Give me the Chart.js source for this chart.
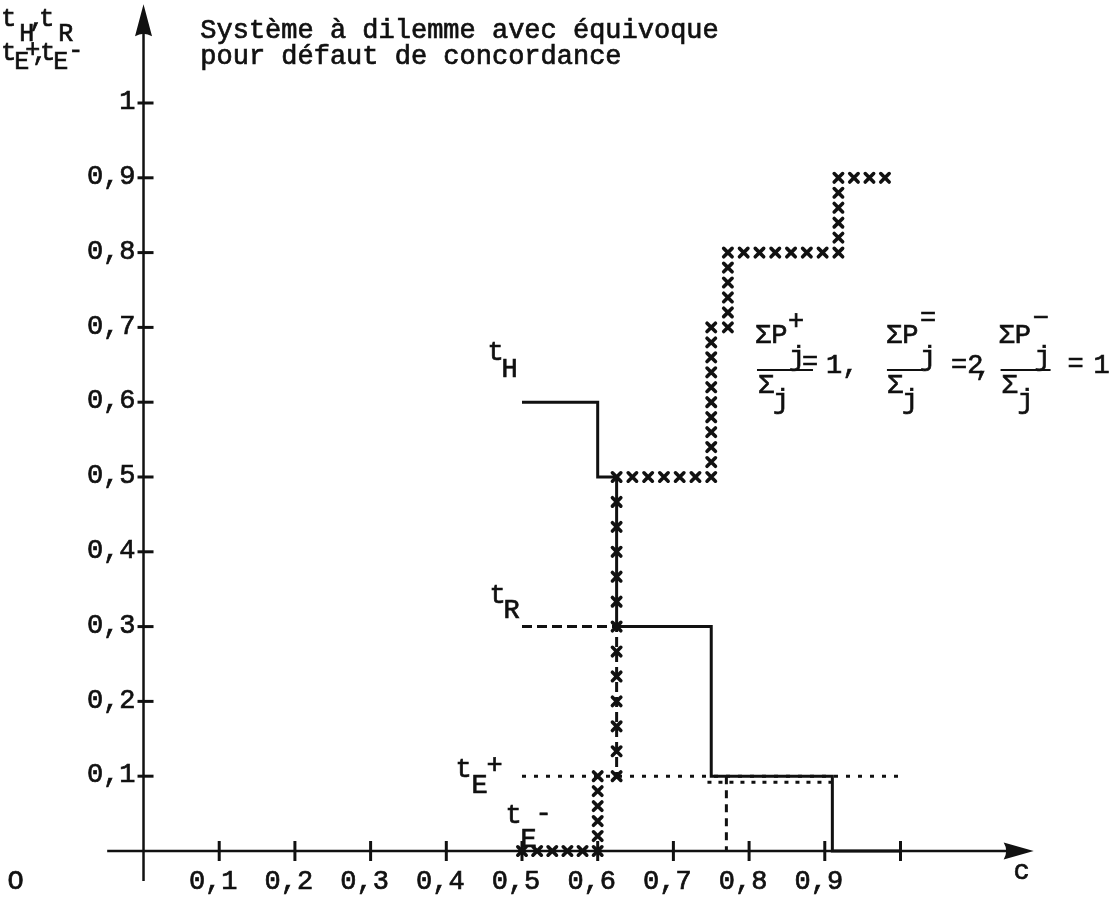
<!DOCTYPE html>
<html>
<head>
<meta charset="utf-8">
<script src="https://cdn.jsdelivr.net/npm/chart.js@4"></script>
<style>
  html, body { margin: 0; padding: 0; background: #fff; }
  canvas { display: block; }
</style>
</head>
<body>
<canvas id="chart" width="1115" height="902"></canvas>
<script>
// axis ticks
const xTicks = [0.1, 0.2, 0.3, 0.4, 0.5, 0.6, 0.7, 0.8, 0.9, 1.0];
const xTickLabels = ['0,1', '0,2', '0,3', '0,4', '0,5', '0,6', '0,7', '0,8', '0,9', ''];
const yTicks = [0.1, 0.2, 0.3, 0.4, 0.5, 0.6, 0.7, 0.8, 0.9, 1.0];
const yTickLabels = ['0,1', '0,2', '0,3', '0,4', '0,5', '0,6', '0,7', '0,8', '0,9', '1'];

// t_H (solid)
const tH_c = [0.5, 0.6, 0.625];
const tH_v = [0.6, 0.5, 0.3];
// t_R, dashed part then solid part
const tRdash_c = [0.5, 0.625];
const tRdash_v = [0.3, 0.1];
const tR_c = [0.625, 0.75, 0.91, 1.0];
const tR_v = [0.3, 0.1, 0, 0];
// t_E+ (dotted) and the short dotted run under it
const tEplus_c = [0.5, 1.0];
const tEplus_v = [0.1, 0.1];
const tEplus2_c = [0.745, 0.91];
const tEplus2_v = [0.092, 0.092];
// dashed drop at c = 0.77
const drop_c = [0.77, 0.77];
const drop_v = [0.1, 0];
// line of crosses (t_E- then upwards)
const cross_c = [0.5, 0.6, 0.625, 0.75, 0.772, 0.918, 1.0];
const cross_v = [0, 0.1, 0.5, 0.7, 0.8, 0.9, 0.9];

const INK = '#111';
const FONT = '27px "Liberation Mono", "DejaVu Sans Mono", monospace';
const SMALL = '25px "Liberation Mono", "DejaVu Sans Mono", monospace';

function pts(c, v) {
  return c.map((x, i) => ({ x: x, y: v[i] }));
}

function line(data, opts) {
  return Object.assign({
    data: data,
    borderColor: INK,
    borderWidth: 3,
    pointRadius: 0,
    fill: false,
    tension: 0
  }, opts);
}

// typed text: fill plus a thin stroke so it reads like typewriter ink
function ink(ctx, s, x, y) {
  ctx.fillText(s, x, y);
  ctx.strokeText(s, x, y);
}

// draws axes, ticks and tick labels through the scales
const axesPlugin = {
  id: 'axes',
  beforeDatasetsDraw(chart) {
    const ctx = chart.ctx;
    const xs = chart.scales.x, ys = chart.scales.y;
    const x0 = xs.getPixelForValue(0), y0 = ys.getPixelForValue(0);
    ctx.save();
    ctx.strokeStyle = INK;
    ctx.fillStyle = INK;
    ctx.lineWidth = 2.5;

    // y axis + arrow
    const yTop = ys.getPixelForValue(1.132);
    ctx.beginPath();
    ctx.moveTo(x0, ys.getPixelForValue(-0.04));
    ctx.lineTo(x0, yTop + 20);
    ctx.stroke();
    ctx.beginPath();
    ctx.moveTo(x0, yTop);
    ctx.lineTo(x0 + 8.5, yTop + 32);
    ctx.quadraticCurveTo(x0, yTop + 27, x0 - 8.5, yTop + 32);
    ctx.closePath();
    ctx.fill();

    // x axis + arrow
    const xRight = xs.getPixelForValue(1.176);
    ctx.beginPath();
    ctx.moveTo(xs.getPixelForValue(-0.048), y0);
    ctx.lineTo(xRight - 20, y0);
    ctx.stroke();
    ctx.beginPath();
    ctx.moveTo(xRight, y0);
    ctx.lineTo(xRight - 30, y0 - 8.5);
    ctx.quadraticCurveTo(xRight - 25, y0, xRight - 30, y0 + 8.5);
    ctx.closePath();
    ctx.fill();

    ctx.lineWidth = 3;
    // x ticks
    xTicks.forEach(t => {
      const px = xs.getPixelForValue(t);
      ctx.beginPath();
      ctx.moveTo(px, y0 - 10);
      ctx.lineTo(px, y0 + 10);
      ctx.stroke();
    });
    // y ticks
    yTicks.forEach(t => {
      const py = ys.getPixelForValue(t);
      ctx.beginPath();
      ctx.moveTo(x0 - 6, py);
      ctx.lineTo(x0 + 10, py);
      ctx.stroke();
    });

    ctx.font = FONT;
    ctx.lineWidth = 0.7;
    ctx.textBaseline = 'middle';
    ctx.textAlign = 'center';
    xTicks.forEach((t, i) => {
      if (xTickLabels[i]) ink(ctx, xTickLabels[i], xs.getPixelForValue(t) - 6, y0 + 31);
    });
    ctx.textAlign = 'right';
    yTicks.forEach((t, i) => {
      ink(ctx, yTickLabels[i], x0 - 8, ys.getPixelForValue(t) - 1);
    });
    // origin and axis name
    ctx.textAlign = 'center';
    ink(ctx, 'O', xs.getPixelForValue(-0.169), y0 + 31);
    ink(ctx, 'c', xs.getPixelForValue(1.16), y0 + 21);
    ctx.restore();
  }
};

// stamps typewriter crosses along datasets flagged with `crosses`
const crossPlugin = {
  id: 'crosses',
  afterDatasetsDraw(chart) {
    const ctx = chart.ctx;
    chart.data.datasets.forEach((ds, i) => {
      if (!ds.crosses) return;
      const p = chart.getDatasetMeta(i).data.map(e => ({ x: e.x, y: e.y }));
      const path = [p[0]];
      for (let k = 1; k < p.length; k++) {
        path.push({ x: p[k].x, y: p[k - 1].y });
        path.push(p[k]);
      }
      ctx.save();
      ctx.strokeStyle = INK;
      ctx.lineWidth = 3.6;
      ctx.lineCap = 'round';
      const r = 4.2;
      const mark = (cx, cy) => {
        ctx.beginPath();
        ctx.moveTo(cx - r, cy - r); ctx.lineTo(cx + r, cy + r);
        ctx.moveTo(cx + r, cy - r); ctx.lineTo(cx - r, cy + r);
        ctx.stroke();
      };
      for (let k = 1; k < path.length; k++) {
        const a = path[k - 1], b = path[k];
        const len = Math.hypot(b.x - a.x, b.y - a.y);
        if (len < 1) continue;
        // long vertical run is typed sparser in the original
        const gap = len > 250 ? 25 : 15;
        const n = Math.max(1, Math.round(len / gap));
        for (let s = 0; s < n; s++) {
          const t = s / n;
          mark(a.x + (b.x - a.x) * t, a.y + (b.y - a.y) * t);
        }
        if (k === path.length - 1) mark(b.x, b.y);
      }
      ctx.restore();
    });
  }
};

// text blocks: anchor in data units, parts as [text, dx, dy] in pixels
const notes = [
  { c: -0.188, v: 1.103, small: true, parts: [['t', 0, 0], ['H', 18, 15], [',', 28, 0], ['t', 38, 0], ['R', 57, 15]] },
  { c: -0.188, v: 1.058, small: true, parts: [['t', 0, 0], ['E', 13, 9], ['+', 24, -3], [',', 31, 0], ['t', 39, 0], ['E', 52, 9], ['-', 67, -2]] },
  { c: 0.075, v: 1.087, parts: [['Système à dilemme avec équivoque', 0, 0]] },
  { c: 0.075, v: 1.052, parts: [['pour défaut de concordance', 0, 0]] },
  { c: 0.4544, v: 0.656, parts: [['t', 0, 0], ['H', 14, 17]] },
  { c: 0.4571, v: 0.332, parts: [['t', 0, 0], ['R', 14, 15]] },
  { c: 0.4122, v: 0.099, parts: [['t', 0, 0], ['E', 16, 16], ['+', 31, -4]] },
  { c: 0.4782, v: 0.037, parts: [['t', 0, 0], ['E', 15, 24], ['-', 30, -2]] },
  { c: 0.8078, v: 0.679, bar: [2, 58], parts: [['ΣP', 0, 0], ['+', 33, -14], ['j', 34, 22], ['=', 47, 27], ['1,', 71, 30], ['Σ', 3, 50], ['j', 18, 65]] },
  { c: 0.9808, v: 0.679, bar: [1, 37], parts: [['ΣP', 0, 0], ['=', 34, -17], ['j', 34, 22], ['=2', 65, 30], [',', 89, 32], ['Σ', 1, 50], ['j', 16, 65]] },
  { c: 1.1296, v: 0.679, bar: [2, 52], parts: [['ΣP', 0, 0], ['−', 34, -17], ['j', 36, 22], ['=', 69, 29], ['1', 95, 30], ['Σ', 3, 50], ['j', 19, 65]] }
];

const notesPlugin = {
  id: 'notes',
  afterDraw(chart) {
    const ctx = chart.ctx;
    const xs = chart.scales.x, ys = chart.scales.y;
    ctx.save();
    ctx.fillStyle = INK;
    ctx.strokeStyle = INK;
    ctx.textAlign = 'left';
    ctx.textBaseline = 'alphabetic';
    notes.forEach(n => {
      const ax = xs.getPixelForValue(n.c), ay = ys.getPixelForValue(n.v);
      ctx.font = n.small ? SMALL : FONT;
      ctx.lineWidth = 0.7;
      n.parts.forEach(p => ink(ctx, p[0], ax + p[1], ay + p[2]));
      if (n.bar) {
        ctx.lineWidth = 2;
        ctx.beginPath();
        ctx.moveTo(ax + n.bar[0], ay + 27);
        ctx.lineTo(ax + n.bar[1], ay + 27);
        ctx.stroke();
      }
    });
    ctx.restore();
  }
};

new Chart(document.getElementById('chart'), {
  type: 'line',
  data: {
    datasets: [
      line(pts(tH_c, tH_v), { label: 'tH', stepped: true }),
      line(pts(tRdash_c, tRdash_v), { label: 'tR (dashed)', stepped: true, borderDash: [10, 5] }),
      line(pts(tR_c, tR_v), { label: 'tR', stepped: true }),
      line(pts(tEplus_c, tEplus_v), { label: 'tE+', borderDash: [4, 8] }),
      line(pts(tEplus2_c, tEplus2_v), { label: 'tE+ (2)', borderDash: [4, 7] }),
      line(pts(drop_c, drop_v), { label: 'drop', borderDash: [8, 6] }),
      line(pts(cross_c, cross_v), { label: 'crosses', showLine: false, crosses: true })
    ]
  },
  options: {
    responsive: false,
    animation: false,
    layout: { padding: 0 },
    scales: {
      x: { type: 'linear', display: false, min: -0.1896, max: 1.2834 },
      y: { type: 'linear', display: false, min: -0.0682, max: 1.1377 }
    },
    plugins: {
      legend: { display: false },
      tooltip: { enabled: false }
    }
  },
  plugins: [axesPlugin, crossPlugin, notesPlugin]
});
</script>
</body>
</html>
